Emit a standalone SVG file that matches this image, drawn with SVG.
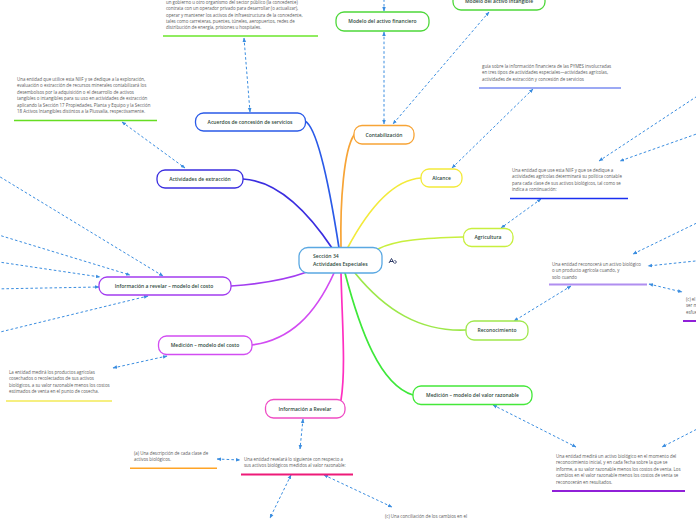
<svg xmlns="http://www.w3.org/2000/svg" width="696" height="520" viewBox="0 0 696 520">
<defs>
<style>
.nd{fill:#fff;stroke-width:1.3}
.lb{font-family:"Open Sans","Noto Sans",sans-serif;font-size:5px;font-weight:600;fill:#2f4a40;text-anchor:middle}
.cl{font-family:"Open Sans","Noto Sans",sans-serif;font-size:5.1px;font-weight:600;fill:#2f4a40}
.nt{font-family:"Open Sans","Noto Sans",sans-serif;font-size:4.42px;fill:#5b5b5b}
.br{fill:none;stroke-width:1.7;stroke-linecap:round}
.dl{fill:none;stroke:#3a8de0;stroke-width:1;stroke-dasharray:2.6 2.2;marker-start:url(#ah);marker-end:url(#ah)}
.ul{fill:none}
</style>
<marker id="ah" viewBox="0 0 10 10" refX="9" refY="5" markerWidth="4.5" markerHeight="4.5" markerUnits="userSpaceOnUse" orient="auto-start-reverse"><path d="M0,1 L10,5 L0,9 z" fill="#3a8de0"/></marker>
</defs>
<rect width="696" height="520" fill="#fff"/>

<g id="connectors">
<path class="br" stroke="#2a5ae8" d="M305,121 C318,128 330,190 339,248"/>
<path class="br" stroke="#3b2ee0" d="M243,179 C280,181 310,215 332,248"/>
<path class="br" stroke="#f7a436" d="M354,135 C344,150 340,200 341,248"/>
<path class="br" stroke="#f3ea3a" d="M421,178 C390,180 365,215 347,249"/>
<path class="br" stroke="#c8ef3e" d="M378,249 C395,240 425,238 463,237"/>
<path class="br" stroke="#a23cf0" d="M307,272 C285,280 260,284 231,286"/>
<path class="br" stroke="#d24cf2" d="M334,273 C315,315 290,340 252,345"/>
<path class="br" stroke="#ff2fc0" d="M341,273 C342,320 346,370 341,400"/>
<path class="br" stroke="#3ee83a" d="M345,273 C360,330 380,385 413,395"/>
<path class="br" stroke="#9de84a" d="M355,273 C385,310 420,332 466,330"/>

<path class="dl" d="M244,38 L250,112"/>
<path class="dl" d="M384,-20 L384,11"/>
<path class="dl" d="M384,32 L384,124"/>
<path class="dl" d="M489,12 L393,124"/>
<path class="dl" d="M533,89 L452,168"/>
<path class="dl" d="M705,91 L599,161"/>
<path class="dl" d="M705,131 L620,161"/>
<path class="dl" d="M541,199 L501,228"/>
<path class="dl" d="M705,219 L633,254"/>
<path class="dl" d="M705,260 L648,266"/>
<path class="dl" d="M649,284 L682,292"/>
<path class="dl" d="M571,286 L514,321"/>
<path class="dl" d="M493,405 L576,447"/>
<path class="dl" d="M705,425 L662,447"/>
<path class="dl" d="M303,419 L300,449"/>
<path class="dl" d="M291,475 L270,518"/>
<path class="dl" d="M324,475 L392,507"/>
<path class="dl" d="M217,459 L240,460"/>
<path class="dl" d="M122,122 L185,168"/>
<path class="dl" d="M-8,172 L163,276"/>
<path class="dl" d="M-8,233 L130,275"/>
<path class="dl" d="M-8,261 L100,277"/>
<path class="dl" d="M-8,289 L99,287"/>
<path class="dl" d="M-8,334 L148,296"/>
<path class="dl" d="M167,356 L113,368"/>
</g>

<g id="central">
<rect class="nd" x="299" y="247.5" width="83" height="25.5" rx="9" stroke="#5aa8e2"/>
<text class="cl" x="313" y="258.3">Sección 34</text>
<text class="cl" x="313" y="265.9">Actividades Especiales</text>
<path d="M389,263 L391.5,258.5 L394,263 M390,261.5 L393,261.5 M394.5,260 L396.5,262 L394.5,264" fill="none" stroke="#1c2a5a" stroke-width="0.9"/>
</g>

<g id="n-acuerdos"><rect class="nd" x="195.5" y="113" width="110" height="18" rx="8" stroke="#2a5ae8"/><text class="lb" x="250" y="123.8">Acuerdos de concesión de servicios</text></g>
<g id="n-extraccion"><rect class="nd" x="157" y="170" width="86" height="18" rx="8" stroke="#3b2ee0"/><text class="lb" x="200" y="180.8">Actividades de extracción</text></g>
<g id="n-financiero"><rect class="nd" x="336" y="12" width="93" height="19" rx="8" stroke="#4ed83a"/><text class="lb" x="382.5" y="23.3">Modelo del activo financiero</text></g>
<g id="n-intangible"><rect class="nd" x="453" y="-9" width="92" height="19" rx="8" stroke="#4ed83a"/><text class="lb" x="499" y="2.5">Modelo del activo intangible</text></g>
<g id="n-contabilizacion"><rect class="nd" x="354" y="125.5" width="60" height="18.5" rx="8" stroke="#f7a436"/><text class="lb" x="384" y="136.5">Contabilización</text></g>
<g id="n-alcance"><rect class="nd" x="421" y="169" width="41" height="18" rx="8" stroke="#f3ea3a"/><text class="lb" x="441.5" y="179.8">Alcance</text></g>
<g id="n-agricultura"><rect class="nd" x="463.5" y="228.5" width="49.5" height="18" rx="8" stroke="#c8ef3e"/><text class="lb" x="488" y="239.3">Agricultura</text></g>
<g id="n-reconocimiento"><rect class="nd" x="466" y="321" width="62" height="19" rx="8" stroke="#a0e84c"/><text class="lb" x="497" y="332.3">Reconocimiento</text></g>
<g id="n-medicion-vr"><rect class="nd" x="413" y="386" width="119" height="18.5" rx="8" stroke="#44e83a"/><text class="lb" x="472.5" y="397">Medición – modelo del valor razonable</text></g>
<g id="n-info-revelar"><rect class="nd" x="265.5" y="399.5" width="79.5" height="18.5" rx="8" stroke="#ef4cc4"/><text class="lb" x="305" y="410.6">Información a Revelar</text></g>
<g id="n-medicion-costo"><rect class="nd" x="158.5" y="336" width="93.5" height="18.5" rx="8" stroke="#d24cf2"/><text class="lb" x="205" y="347.1">Medición – modelo del costo</text></g>
<g id="n-info-costo"><rect class="nd" x="99" y="277" width="132" height="18" rx="8" stroke="#a23cf0"/><text class="lb" x="164" y="287.8">Información a revelar – modelo del costo</text></g>

<g id="note-concesion">
<text class="nt" x="166" y="3.7">un gobierno u otro organismo del sector público (la concedente)</text>
<text class="nt" x="166" y="10.1">contrata con un operador privado para desarrollar (o actualizar),</text>
<text class="nt" x="166" y="16.5">operar y mantener los activos de infraestructura de la concedente,</text>
<text class="nt" x="166" y="22.9">tales como carreteras, puentes, túneles, aeropuertos, redes de</text>
<text class="nt" x="166" y="29.3">distribución de energía, prisiones u hospitales.</text>
<line class="ul" x1="163" y1="36" x2="318" y2="36" stroke="#90ec60" stroke-width="1.8"/>
</g>
<g id="note-extraccion">
<text class="nt" x="17" y="81">Una entidad que utilice esta NIIF y se dedique a la exploración,</text>
<text class="nt" x="17" y="87.4">evaluación o extracción de recursos minerales contabilizará los</text>
<text class="nt" x="17" y="93.8">desembolsos por la adquisición o el desarrollo de activos</text>
<text class="nt" x="17" y="100.2">tangibles o intangibles para su uso en actividades de extracción</text>
<text class="nt" x="17" y="106.6">aplicando la Sección 17 Propiedades, Planta y Equipo y la Sección</text>
<text class="nt" x="17" y="113">18 Activos Intangibles distintos a la Plusvalía, respectivamente.</text>
<line class="ul" x1="14" y1="120.5" x2="157" y2="120.5" stroke="#66dd22" stroke-width="1.5"/>
</g>
<g id="note-alcance">
<text class="nt" x="482" y="68">guía sobre la información financiera de las PYMES involucradas</text>
<text class="nt" x="482" y="74.4">en tres tipos de actividades especiales—actividades agrícolas,</text>
<text class="nt" x="482" y="80.8">actividades de extracción y concesión de servicios</text>
<line class="ul" x1="479" y1="88" x2="621" y2="88" stroke="#7b8cf0" stroke-width="1.5"/>
</g>
<g id="note-agricultura">
<text class="nt" x="512" y="171.7">Una entidad que use esta NIIF y que se dedique a</text>
<text class="nt" x="512" y="178.1">actividades agrícolas determinará su política contable</text>
<text class="nt" x="512" y="184.5">para cada clase de sus activos biológicos, tal como se</text>
<text class="nt" x="512" y="190.9">indica a continuación:</text>
<line class="ul" x1="510" y1="198.5" x2="628" y2="198.5" stroke="#1a2ff0" stroke-width="1.5"/>
</g>
<g id="note-reconocimiento">
<text class="nt" x="552" y="265.7">Una entidad reconocerá un activo biológico</text>
<text class="nt" x="552" y="272.1">o un producto agrícola cuando, y</text>
<text class="nt" x="552" y="278.5">solo cuando</text>
<line class="ul" x1="549" y1="284.5" x2="647" y2="284.5" stroke="#b08ef0" stroke-width="2"/>
</g>
<g id="note-c-fiable">
<text class="nt" x="686" y="300.5">(c) el valor</text>
<text class="nt" x="686" y="307">ser medidos</text>
<text class="nt" x="686" y="313.5">esfuerzo</text>
<line class="ul" x1="683" y1="321" x2="700" y2="321" stroke="#9020d8" stroke-width="2"/>
</g>
<g id="note-medicion-costo">
<text class="nt" x="9" y="374">La entidad medirá los productos agrícolas</text>
<text class="nt" x="9" y="380.4">cosechados o recolectados de sus activos</text>
<text class="nt" x="9" y="386.8">biológicos, a su valor razonable menos los costos</text>
<text class="nt" x="9" y="393.2">estimados de venta en el punto de cosecha.</text>
<line class="ul" x1="6" y1="401" x2="112" y2="401" stroke="#f6ef80" stroke-width="2"/>
</g>
<g id="note-a">
<text class="nt" x="134" y="455">(a) Una descripción de cada clase de</text>
<text class="nt" x="134" y="461.4">activos biológicos.</text>
<line class="ul" x1="130" y1="468.3" x2="217" y2="468.3" stroke="#ffa426" stroke-width="1.5"/>
</g>
<g id="note-revelar">
<text class="nt" x="244" y="461">Una entidad revelará lo siguiente con respecto a</text>
<text class="nt" x="244" y="467.4">sus activos biológicos medidos al valor razonable:</text>
<line class="ul" x1="241" y1="474.5" x2="353" y2="474.5" stroke="#ee1a78" stroke-width="1.8"/>
</g>
<g id="note-c-conciliacion">
<text class="nt" x="385" y="518.3">(c) Una conciliación de los cambios en el</text>
</g>
<g id="note-medicion-vr">
<text class="nt" x="556" y="458">Una entidad medirá un activo biológico en el momento del</text>
<text class="nt" x="556" y="464.4">reconocimiento inicial, y en cada fecha sobre la que se</text>
<text class="nt" x="556" y="470.8">informe, a su valor razonable menos los costos de venta. Los</text>
<text class="nt" x="556" y="477.2">cambios en el valor razonable menos los costos de venta se</text>
<text class="nt" x="556" y="483.6">reconocerán en resultados.</text>
<line class="ul" x1="552" y1="491" x2="685" y2="491" stroke="#9020d8" stroke-width="2"/>
</g>
</svg>
